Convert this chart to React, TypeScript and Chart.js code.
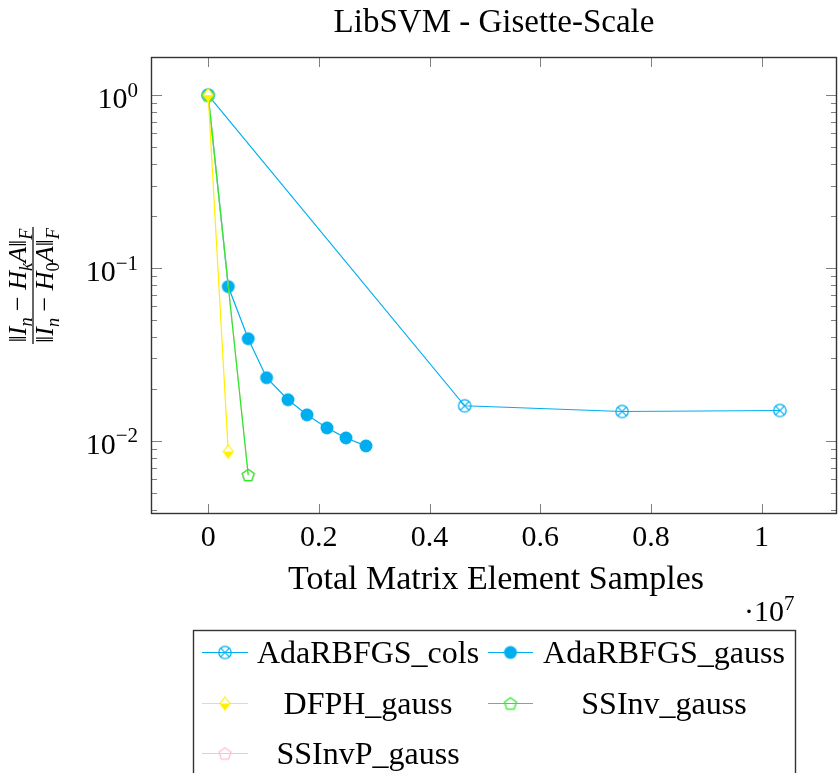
import React, { useEffect, useRef } from "react";
import { Chart, registerables } from "chart.js";

Chart.register(...registerables);

// ---------- data ----------
const TITLE = "LibSVM - Gisette-Scale";
const X_TITLE = "Total Matrix Element Samples";
const X_TICKS = [0, 2e6, 4e6, 6e6, 8e6, 1e7];
const X_TICK_LABELS = ["0", "0.2", "0.4", "0.6", "0.8", "1"];
const Y_TICKS = [1, 0.1, 0.01];
const Y_TICK_EXPONENTS = ["0", "\u22121", "\u22122"];
const X_MIN = -1.033e6;
const X_MAX = 1.1363e7;
const Y_MIN = 0.003776;
const Y_MAX = 1.662;

const SERIES_NAMES = ["AdaRBFGS_cols", "AdaRBFGS_gauss", "DFPH_gauss", "SSInv_gauss", "SSInvP_gauss"];

const colsX = [0, 4.635e6, 7.48e6, 1.033e7];
const colsY = [1, 0.01596, 0.01479, 0.01499];

const gaussX = [0, 0.363e6, 0.724e6, 1.056e6, 1.442e6, 1.785e6, 2.147e6, 2.49e6, 2.852e6];
const gaussY = [1, 0.0781, 0.039, 0.0232, 0.0173, 0.01415, 0.01189, 0.0104, 0.00935];

const dfphX = [0, 0.363e6];
const dfphY = [1, 0.00867];

const ssinvX = [0, 0.724e6];
const ssinvY = [1, 0.00635];

const ssinvpX = [0, 0.724e6];
const ssinvpY = [1, 0.00635];

// ---------- styles ----------
const FONT = '"Liberation Serif", "Times New Roman", serif';
const CYAN = "rgb(0,174,239)";
const YELLOW = "rgb(255,240,0)";
const GREEN = "rgb(40,235,40)";
const PINK = "rgb(255,192,203)";

function mkCanvas(size: number) {
  const c = document.createElement("canvas");
  c.width = size;
  c.height = size;
  return c;
}

function markerOtimes(color: string) {
  const c = mkCanvas(18);
  const g = c.getContext("2d")!;
  g.strokeStyle = color;
  g.lineWidth = 1.3;
  g.beginPath();
  g.arc(9, 9, 6.2, 0, Math.PI * 2);
  g.stroke();
  const d = 6.2 * Math.SQRT1_2;
  g.beginPath();
  g.moveTo(9 - d, 9 - d);
  g.lineTo(9 + d, 9 + d);
  g.moveTo(9 + d, 9 - d);
  g.lineTo(9 - d, 9 + d);
  g.stroke();
  return c;
}

function markerDot(color: string) {
  const c = mkCanvas(16);
  const g = c.getContext("2d")!;
  g.fillStyle = color;
  g.beginPath();
  g.arc(8, 8, 6.5, 0, Math.PI * 2);
  g.fill();
  return c;
}

function markerHalfDiamond(color: string) {
  const c = mkCanvas(16);
  const g = c.getContext("2d")!;
  const cx = 8, cy = 8, w = 5, h = 6.5;
  g.fillStyle = "#fff";
  g.beginPath();
  g.moveTo(cx, cy - h);
  g.lineTo(cx + w, cy);
  g.lineTo(cx - w, cy);
  g.closePath();
  g.fill();
  g.fillStyle = color;
  g.beginPath();
  g.moveTo(cx - w, cy);
  g.lineTo(cx + w, cy);
  g.lineTo(cx, cy + h);
  g.closePath();
  g.fill();
  g.strokeStyle = color;
  g.lineWidth = 1.2;
  g.beginPath();
  g.moveTo(cx, cy - h);
  g.lineTo(cx + w, cy);
  g.lineTo(cx, cy + h);
  g.lineTo(cx - w, cy);
  g.closePath();
  g.stroke();
  return c;
}

function markerPentagon(color: string) {
  const c = mkCanvas(18);
  const g = c.getContext("2d")!;
  const r = 6.3;
  g.strokeStyle = color;
  g.lineWidth = 1.3;
  g.beginPath();
  for (let i = 0; i < 5; i++) {
    const a = -Math.PI / 2 + (i * 2 * Math.PI) / 5;
    const x = 9 + r * Math.cos(a);
    const y = 9.5 + r * Math.sin(a);
    if (i === 0) g.moveTo(x, y);
    else g.lineTo(x, y);
  }
  g.closePath();
  g.stroke();
  return c;
}

type Seg = { t: string; italic?: boolean; sub?: boolean; sup?: boolean };

function segFont(s: Seg, size: number) {
  const sz = s.sub || s.sup ? size * 0.7 : size;
  return `${s.italic ? "italic " : ""}${sz}px ${FONT}`;
}

function richWidth(ctx: CanvasRenderingContext2D, segs: Seg[], size: number) {
  let w = 0;
  for (const s of segs) {
    ctx.font = segFont(s, size);
    w += ctx.measureText(s.t).width;
  }
  return w;
}

function drawRich(
  ctx: CanvasRenderingContext2D,
  segs: Seg[],
  x: number,
  y: number,
  size: number,
  align: "left" | "center" | "right"
) {
  const w = richWidth(ctx, segs, size);
  let cx = align === "left" ? x : align === "center" ? x - w / 2 : x - w;
  ctx.textAlign = "left";
  ctx.textBaseline = "alphabetic";
  for (const s of segs) {
    ctx.font = segFont(s, size);
    const dy = s.sub ? size * 0.22 : s.sup ? -size * 0.38 : 0;
    ctx.fillText(s.t, cx, y + dy);
    cx += ctx.measureText(s.t).width;
  }
}

const NUM: Seg[] = [
  { t: "\u2016" },
  { t: "I", italic: true },
  { t: "n", italic: true, sub: true },
  { t: " \u2212 " },
  { t: "H", italic: true },
  { t: "k", italic: true, sub: true },
  { t: "A", italic: true },
  { t: "\u2016" },
  { t: "F", italic: true, sub: true },
];
const DEN: Seg[] = [
  { t: "\u2016" },
  { t: "I", italic: true },
  { t: "n", italic: true, sub: true },
  { t: " \u2212 " },
  { t: "H", italic: true },
  { t: "0", sub: true },
  { t: "A", italic: true },
  { t: "\u2016" },
  { t: "F", italic: true, sub: true },
];

// legend layout (positions only)
const LEG_BOX = { left: 193.5, top: 630.5, right: 795.5 };
const LEG_COLS = [
  { lineL: 202, lineR: 248, textC: 368 },
  { lineL: 488, lineR: 533, textC: 664 },
];
const LEG_ROWS = [652, 703, 753];

const decorPlugin = {
  id: "decor",
  afterDraw(chart: any) {
    const ctx: CanvasRenderingContext2D = chart.ctx;
    const { left, right, top, bottom } = chart.chartArea;
    const xs = chart.scales.x;
    const ys = chart.scales.y;
    ctx.save();

    // ticks
    ctx.strokeStyle = "#808080";
    ctx.lineWidth = 1;
    ctx.beginPath();
    for (const v of X_TICKS) {
      const px = Math.round(xs.getPixelForValue(v)) + 0.5;
      ctx.moveTo(px, bottom);
      ctx.lineTo(px, bottom - 10);
      ctx.moveTo(px, top);
      ctx.lineTo(px, top + 10);
    }
    for (let d = -3; d <= 0; d++) {
      for (let k = 1; k <= 9; k++) {
        const v = k * Math.pow(10, d);
        if (v < Y_MIN || v > Y_MAX) continue;
        const py = Math.round(ys.getPixelForValue(v)) + 0.5;
        const len = k === 1 ? 11 : 6;
        ctx.moveTo(left, py);
        ctx.lineTo(left + len, py);
        ctx.moveTo(right, py);
        ctx.lineTo(right - len, py);
      }
    }
    ctx.stroke();

    // frame
    ctx.strokeStyle = "#333";
    ctx.lineWidth = 1.4;
    ctx.strokeRect(left + 0.5, top + 0.5, right - left - 1, bottom - top - 1);

    ctx.fillStyle = "#000";
    // y tick labels
    Y_TICKS.forEach((v, i) => {
      const py = ys.getPixelForValue(v);
      drawRich(ctx, [{ t: "10" }, { t: Y_TICK_EXPONENTS[i], sup: true }], 138, py + 13, 30, "right");
    });

    // title
    ctx.font = `33px ${FONT}`;
    ctx.textAlign = "center";
    ctx.textBaseline = "alphabetic";
    ctx.fillText(TITLE, (left + right) / 2, 32);

    // x title
    ctx.font = `34px ${FONT}`;
    ctx.fillText(X_TITLE, (left + right) / 2 + 2, 589);
    drawRich(ctx, [{ t: "\u00B710" }, { t: "7", sup: true }], 744, 621, 30, "left");

    // y title (rotated fraction)
    ctx.save();
    ctx.translate(33, (top + bottom) / 2);
    ctx.rotate(-Math.PI / 2);
    const fs = 26;
    const wn = richWidth(ctx, NUM, fs);
    const wd = richWidth(ctx, DEN, fs);
    const wb = Math.max(wn, wd) + 2;
    drawRich(ctx, NUM, 0, -7, fs, "center");
    drawRich(ctx, DEN, 0, 20, fs, "center");
    ctx.strokeStyle = "#000";
    ctx.lineWidth = 1.2;
    ctx.beginPath();
    ctx.moveTo(-wb / 2, 0);
    ctx.lineTo(wb / 2, 0);
    ctx.stroke();
    ctx.restore();

    // legend
    ctx.strokeStyle = "#333";
    ctx.lineWidth = 1.4;
    ctx.strokeRect(LEG_BOX.left, LEG_BOX.top, LEG_BOX.right - LEG_BOX.left, 200);
    chart.data.datasets.forEach((ds: any, i: number) => {
      const col = LEG_COLS[i % 2];
      const y = LEG_ROWS[Math.floor(i / 2)];
      ctx.strokeStyle = ds.borderColor;
      ctx.lineWidth = 1.2;
      ctx.beginPath();
      ctx.moveTo(col.lineL, y + 0.5);
      ctx.lineTo(col.lineR, y + 0.5);
      ctx.stroke();
      const img = ds.pointStyle as HTMLCanvasElement;
      const mx = (col.lineL + col.lineR) / 2;
      ctx.drawImage(img, mx - img.width / 2, y + 0.5 - img.height / 2);
      ctx.fillStyle = "#000";
      ctx.font = `32px ${FONT}`;
      ctx.textAlign = "center";
      ctx.textBaseline = "alphabetic";
      ctx.fillText(ds.label, col.textC, y + 11);
    });

    ctx.restore();
  },
};

function pts(xs: number[], ys: number[]) {
  return xs.map((x, i) => ({ x, y: ys[i] }));
}

export default function App() {
  const ref = useRef<HTMLCanvasElement>(null);
  useEffect(() => {
    const canvas = ref.current!;
    const mk = (label: string, data: any[], color: string, marker: HTMLCanvasElement, order: number) => ({
      label,
      data,
      borderColor: color,
      backgroundColor: color,
      borderWidth: 1.2,
      pointStyle: marker,
      pointRadius: 6,
      showLine: true,
      tension: 0,
      fill: false,
      clip: false,
      order,
    });
    const chart = new Chart(canvas, {
      type: "line",
      data: {
        datasets: [
          mk(SERIES_NAMES[0], pts(colsX, colsY), CYAN, markerOtimes(CYAN), 5),
          mk(SERIES_NAMES[1], pts(gaussX, gaussY), CYAN, markerDot(CYAN), 4),
          mk(SERIES_NAMES[2], pts(dfphX, dfphY), YELLOW, markerHalfDiamond(YELLOW), 1),
          mk(SERIES_NAMES[3], pts(ssinvX, ssinvY), GREEN, markerPentagon(GREEN), 2),
          mk(SERIES_NAMES[4], pts(ssinvpX, ssinvpY), PINK, markerPentagon(PINK), 3),
        ] as any,
      },
      options: {
        responsive: false,
        animation: false,
        events: [],
        layout: { autoPadding: false, padding: { left: 0, top: 57, right: 1, bottom: 773 - 514 - 40 } },
        plugins: {
          legend: { display: false },
          title: { display: false },
          tooltip: { enabled: false },
        },
        scales: {
          x: {
            type: "linear",
            min: X_MIN,
            max: X_MAX,
            grid: { display: false, drawTicks: false },
            border: { display: false },
            afterBuildTicks: (s: any) => {
              s.ticks = X_TICKS.map((v) => ({ value: v }));
            },
            afterFit: (s: any) => {
              s.height = 40;
              s.paddingLeft = 0;
              s.paddingRight = 0;
            },
            ticks: {
              autoSkip: false,
              maxRotation: 0,
              padding: 6,
              color: "#000",
              font: { family: FONT, size: 30 },
              callback: (v: any) => {
                const i = X_TICKS.indexOf(Number(v));
                return i >= 0 ? X_TICK_LABELS[i] : "";
              },
            },
          },
          y: {
            type: "logarithmic",
            min: Y_MIN,
            max: Y_MAX,
            grid: { display: false, drawTicks: false },
            border: { display: false },
            afterBuildTicks: (s: any) => {
              s.ticks = Y_TICKS.map((v) => ({ value: v }));
            },
            afterFit: (s: any) => {
              s.width = 151;
              s.paddingTop = 0;
              s.paddingBottom = 0;
            },
            ticks: { display: false },
          },
        },
      } as any,
      plugins: [decorPlugin],
    });
    return () => chart.destroy();
  }, []);
  return (
    <div style={{ position: "absolute", left: 0, top: 0, width: 838, height: 773, background: "#fff" }}>
      <canvas ref={ref} width={838} height={773} style={{ display: "block" }} />
    </div>
  );
}
